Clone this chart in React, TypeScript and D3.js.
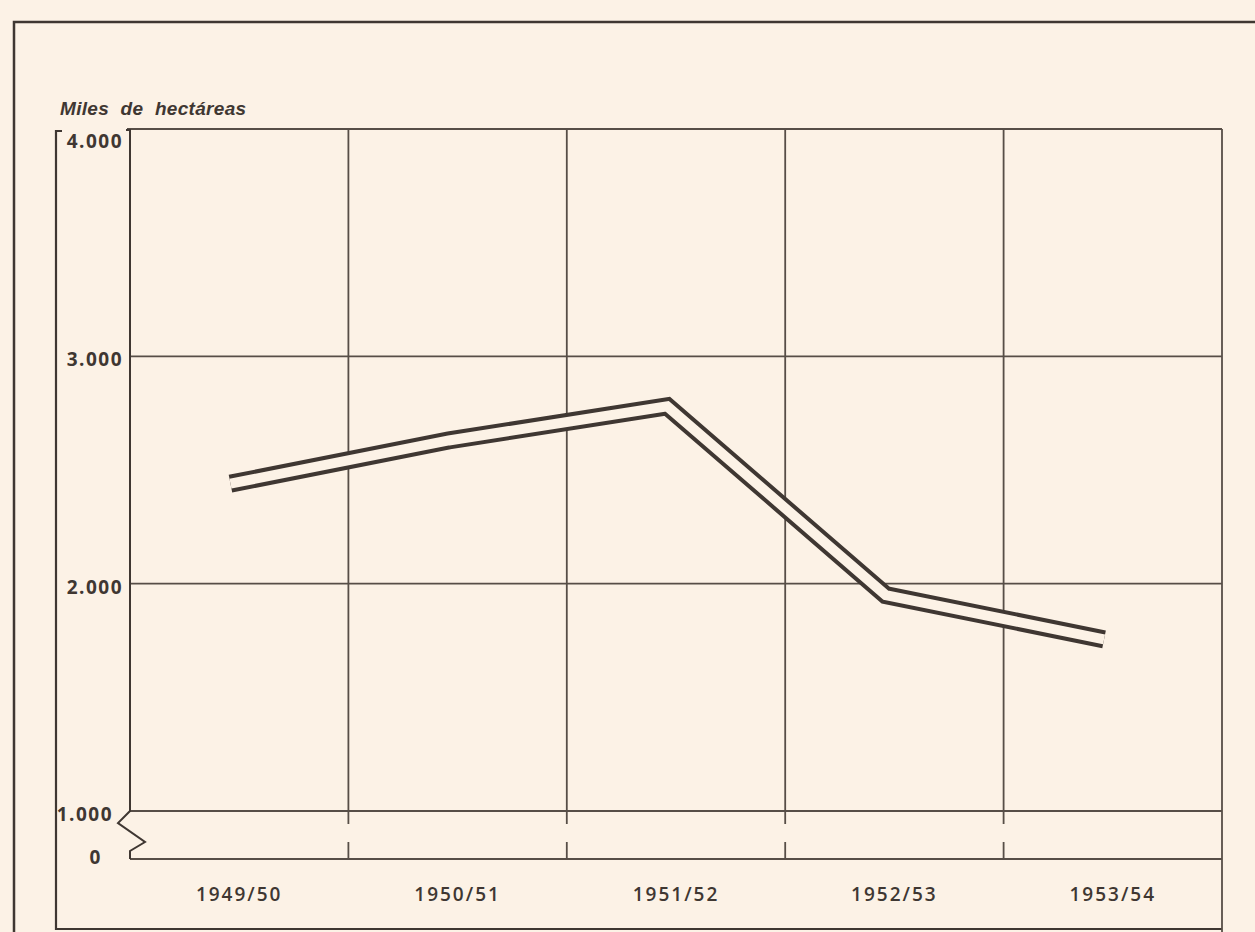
import * as d3 from "d3";
import React, { useEffect, useRef } from "react";

// superficie (miles de hectáreas) por campaña
const seasons = ["1949/50", "1950/51", "1951/52", "1952/53", "1953/54"];
const area = [2440, 2630, 2780, 1950, 1755];

const yTicks = [1000, 2000, 3000, 4000];
const yTickLabels = ["1.000", "2.000", "3.000", "4.000"];
const zeroLabel = "0";
const unitLabel = "Miles de hectáreas";

export default function App() {
  const ref = useRef<SVGSVGElement>(null);

  useEffect(() => {
    document.body.style.margin = "0";
    const width = 1255,
      height = 932;
    const plot = { left: 130, right: 1222, top: 129, bottom: 811 };
    const zeroY = 859;
    const frameBottom = 929;
    const ink = "#3f3732",
      grid = "#574e47",
      bg = "#fcf2e6";
    const font = "'Open Sans', 'Liberation Sans', sans-serif";

    const svg = d3.select(ref.current);
    svg.selectAll("*").remove();

    svg.append("rect")
      .attr("width", width)
      .attr("height", height)
      .attr("fill", bg);

    // marco exterior
    svg.append("path")
      .attr("d", `M14,${height} V22 H${width}`)
      .attr("fill", "none")
      .attr("stroke", ink)
      .attr("stroke-width", 2.5);

    // marco interior
    svg.append("path")
      .attr("d", `M62,${plot.top + 2} H56 V${frameBottom} H${plot.right}`)
      .attr("fill", "none")
      .attr("stroke", ink)
      .attr("stroke-width", 2.2);
    svg.append("line")
      .attr("x1", plot.right).attr("x2", plot.right)
      .attr("y1", plot.top).attr("y2", height)
      .attr("stroke", grid)
      .attr("stroke-width", 1.8);

    var xScale = d3.scaleBand()
      .domain(seasons)
      .range([plot.left, plot.right]);
    var yScale = d3.scaleLinear()
      .domain([1000, 4000])
      .range([plot.bottom, plot.top]);

    // líneas horizontales
    svg.selectAll(".hgrid")
      .data(yTicks)
      .enter().append("line")
      .attr("class", "hgrid")
      .attr("x1", (d) => (d === 4000 ? plot.left - 3 : plot.left))
      .attr("x2", plot.right)
      .attr("y1", (d) => yScale(d))
      .attr("y2", (d) => yScale(d))
      .attr("stroke", grid)
      .attr("stroke-width", 1.8);
    svg.append("line")
      .attr("x1", plot.left).attr("x2", plot.right)
      .attr("y1", zeroY).attr("y2", zeroY)
      .attr("stroke", grid)
      .attr("stroke-width", 1.8);

    // líneas verticales (cortadas en la zona de ruptura)
    const inner = seasons.slice(1);
    svg.selectAll(".vgrid")
      .data(inner)
      .enter().append("line")
      .attr("class", "vgrid")
      .attr("x1", (d) => xScale(d)!)
      .attr("x2", (d) => xScale(d)!)
      .attr("y1", plot.top)
      .attr("y2", plot.bottom + 13)
      .attr("stroke", grid)
      .attr("stroke-width", 1.8);
    svg.selectAll(".vtick")
      .data(inner)
      .enter().append("line")
      .attr("class", "vtick")
      .attr("x1", (d) => xScale(d)!)
      .attr("x2", (d) => xScale(d)!)
      .attr("y1", zeroY - 17)
      .attr("y2", zeroY)
      .attr("stroke", grid)
      .attr("stroke-width", 1.8);

    // eje izquierdo con quiebre
    const b = plot.bottom;
    svg.append("path")
      .attr("d", `M${plot.left - 4},${plot.top + 1} H${plot.left} V${b} L${plot.left - 12},${b + 12} L${plot.left + 15},${b + 31} L${plot.left},${b + 40} V${zeroY}`)
      .attr("fill", "none")
      .attr("stroke", ink)
      .attr("stroke-width", 2)
      .attr("stroke-linejoin", "miter");

    // etiquetas eje y
    svg.selectAll(".ylab")
      .data(yTicks)
      .enter().append("text")
      .attr("class", "ylab")
      .attr("x", (d) => (d === 1000 ? 113 : 123))
      .attr("y", (d) => Math.max(yScale(d) + 3, plot.top + 12))
      .attr("dominant-baseline", "central")
      .attr("text-anchor", "end")
      .attr("font-family", font)
      .attr("font-weight", 700)
      .attr("font-size", "19px")
      .attr("letter-spacing", "1.5px")
      .attr("fill", ink)
      .text((d, i) => yTickLabels[i]);
    svg.append("text")
      .attr("x", 95)
      .attr("y", zeroY - 2)
      .attr("dominant-baseline", "central")
      .attr("text-anchor", "middle")
      .attr("font-family", font)
      .attr("font-weight", 700)
      .attr("font-size", "19px")
      .attr("fill", ink)
      .text(zeroLabel);

    // etiquetas eje x
    svg.selectAll(".xlab")
      .data(seasons)
      .enter().append("text")
      .attr("class", "xlab")
      .attr("x", (d) => xScale(d)! + xScale.bandwidth() / 2)
      .attr("y", 894)
      .attr("dominant-baseline", "central")
      .attr("text-anchor", "middle")
      .attr("font-family", font)
      .attr("font-weight", 600)
      .attr("font-size", "19px")
      .attr("letter-spacing", "2px")
      .attr("fill", ink)
      .text((d) => d);

    // unidad
    svg.append("text")
      .attr("x", 60)
      .attr("y", 115)
      .attr("font-family", "'Liberation Sans', Arial, sans-serif")
      .attr("font-style", "italic")
      .attr("font-weight", "bold")
      .attr("font-size", "19px")
      .attr("word-spacing", "6px")
      .attr("letter-spacing", "0.3px")
      .attr("fill", ink)
      .text(unitLabel);

    // línea doble
    var line = d3.line<number>()
      .x((d, i) => xScale(seasons[i])! + xScale.bandwidth() * 0.46)
      .y((d) => yScale(d));
    svg.append("path")
      .attr("d", line(area))
      .attr("fill", "none")
      .attr("stroke", ink)
      .attr("stroke-width", 18)
      .attr("stroke-linejoin", "miter");
    svg.append("path")
      .attr("d", line(area))
      .attr("fill", "none")
      .attr("stroke", bg)
      .attr("stroke-width", 10)
      .attr("stroke-linejoin", "miter");
  }, []);

  return (
    <div>
      <svg ref={ref} width={1255} height={932} style={{ display: "block" }}></svg>
    </div>
  );
}
